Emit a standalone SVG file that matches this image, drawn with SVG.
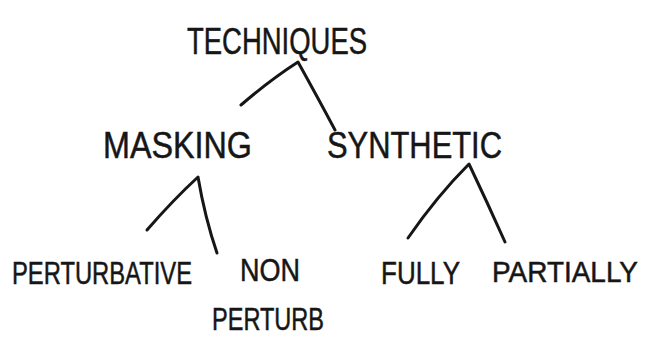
<svg xmlns="http://www.w3.org/2000/svg" width="651" height="340" viewBox="0 0 651 340">
<style>
.lbl{font-family:"Liberation Sans",Arial,sans-serif;font-size:37px;fill:#161616;stroke:#161616;stroke-width:0.5}
.low{font-size:31px}
.edge{fill:none;stroke:#161616;stroke-width:3;stroke-linecap:round;stroke-linejoin:round}
</style>
<rect width="651" height="340" fill="#ffffff"/>
<g id="connectors">
<path class="edge" d="M241,105 Q270,80 298,62 Q318,98 335,130"/>
<path class="edge" d="M147,230 Q173,200 198,177 Q205,218 217,253"/>
<path class="edge" d="M408,238 Q437,196 469,164 Q488,204 505,242"/>
</g>
<g id="node-techniques"><text class="lbl" x="187" y="54" textLength="180" lengthAdjust="spacingAndGlyphs">TECHNIQUES</text></g>
<g id="node-masking"><text class="lbl" x="103" y="158" textLength="149" lengthAdjust="spacingAndGlyphs">MASKING</text></g>
<g id="node-synthetic"><text class="lbl" x="327" y="158" textLength="175" lengthAdjust="spacingAndGlyphs">SYNTHETIC</text></g>
<g id="node-perturbative"><text class="lbl low" x="12" y="284" textLength="180" lengthAdjust="spacingAndGlyphs">PERTURBATIVE</text></g>
<g id="node-nonperturb"><text class="lbl low"><tspan x="240" y="281" textLength="60" lengthAdjust="spacingAndGlyphs">NON</tspan><tspan x="212" y="330" textLength="112" lengthAdjust="spacingAndGlyphs">PERTURB</tspan></text></g>
<g id="node-fully"><text class="lbl low" x="381" y="284" textLength="79" lengthAdjust="spacingAndGlyphs">FULLY</text></g>
<g id="node-partially"><text class="lbl low" x="492" y="282" textLength="146" lengthAdjust="spacingAndGlyphs" style="font-size:29px">PARTIALLY</text></g>
</svg>
